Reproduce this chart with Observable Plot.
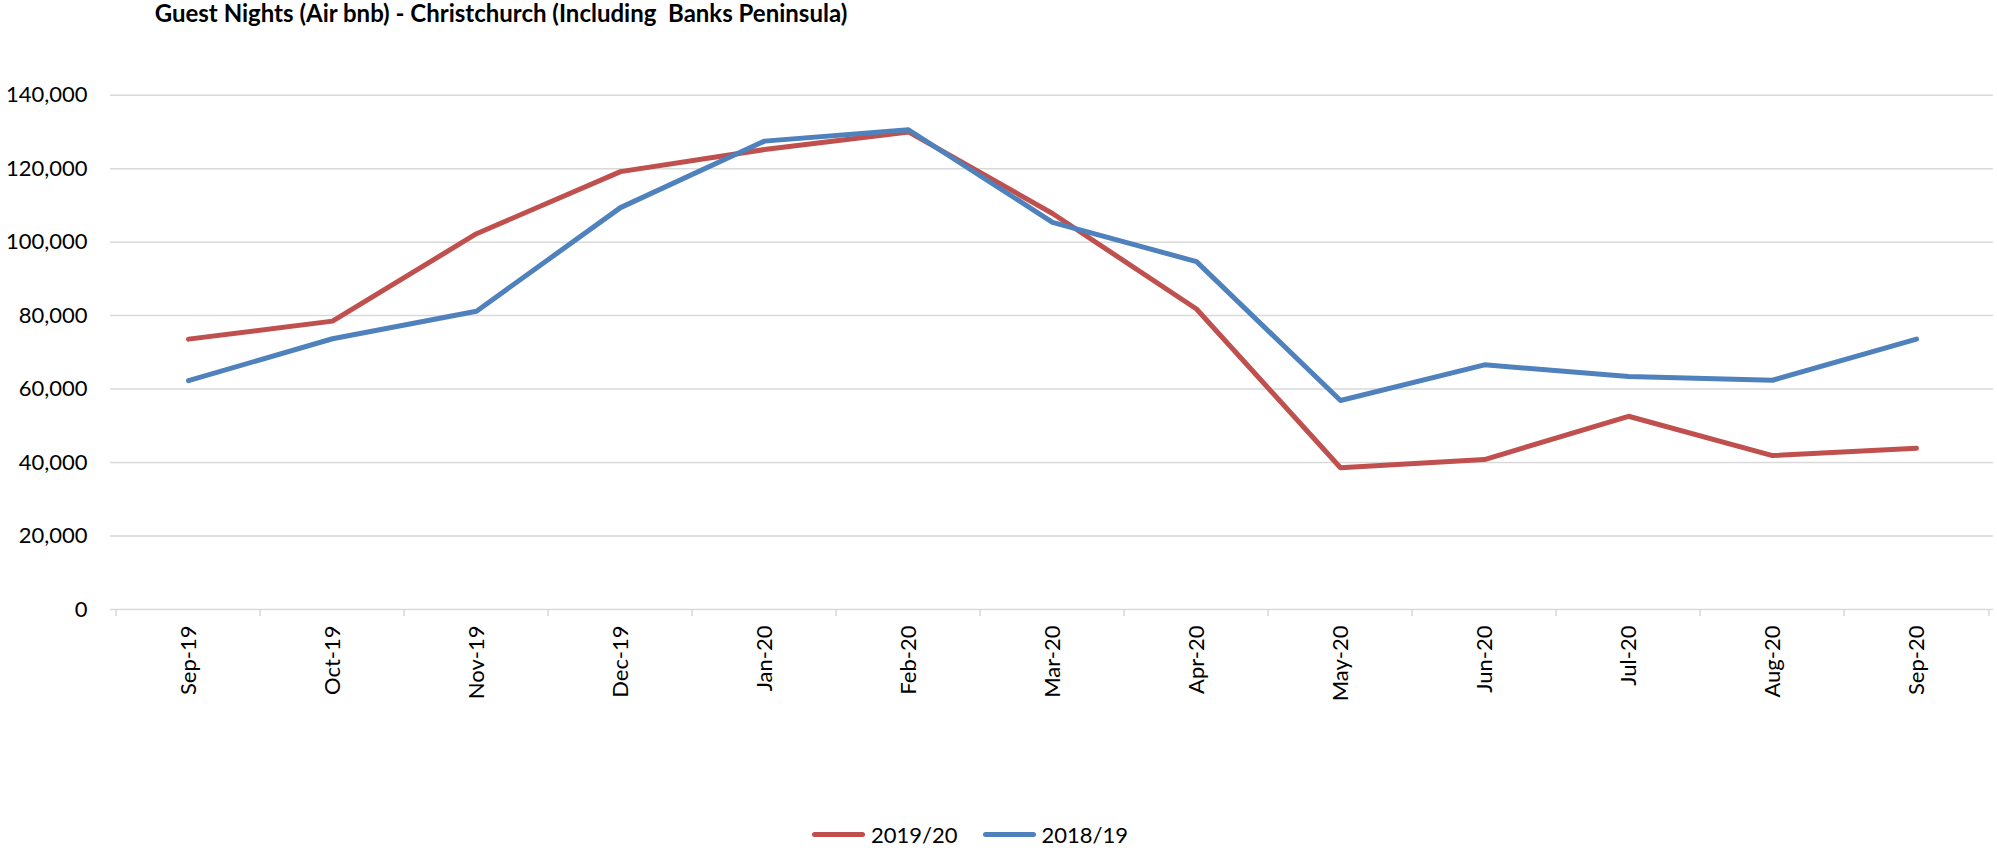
<!DOCTYPE html>
<html>
<head>
<meta charset="utf-8">
<script src="https://cdn.jsdelivr.net/npm/d3@7"></script>
<script src="https://cdn.jsdelivr.net/npm/@observablehq/plot@0.6"></script>
<style>
  html, body { margin: 0; padding: 0; background: #fff; width: 1997px; height: 850px; overflow: hidden; }
  #title { height: 40px; width: 1002px; text-align: center; font-family: Lato, "Open Sans", sans-serif; font-weight: 700; font-size: 24px; line-height: 26px; color: #000; white-space: pre; }
  #chart { height: 770px; }
  #legend { height: 40px; box-sizing: border-box; padding-top: 8px; padding-left: 812px; display: flex; align-items: center; font-family: Lato, "Open Sans", sans-serif; font-size: 22px; color: #000; }
  .sw { display: inline-block; width: 53px; height: 5px; border-radius: 3px; margin-right: 6px; }
  .item { display: flex; align-items: center; margin-right: 25px; }
</style>
</head>
<body>
<div id="title">Guest Nights (Air bnb) - Christchurch (Including  Banks Peninsula)</div>
<div id="chart"></div>
<div id="legend"></div>
<script>
const months = ["Sep-19","Oct-19","Nov-19","Dec-19","Jan-20","Feb-20","Mar-20","Apr-20","May-20","Jun-20","Jul-20","Aug-20","Sep-20"];
const nights2019_20 = [73600, 78500, 102300, 119200, 125200, 130000, 107800, 81800, 38600, 40800, 52600, 41900, 43900];
const nights2018_19 = [62300, 73700, 81200, 109400, 127500, 130600, 105400, 94700, 56900, 66600, 63400, 62400, 73600];
const seriesNames = ["2019/20", "2018/19"];
const seriesColors = ["#C0504D", "#4F81BD"];
const yTicks = [0, 20000, 40000, 60000, 80000, 100000, 120000, 140000];

const data = months.flatMap((m, i) => [
  {month: m, value: nights2019_20[i], series: seriesNames[0]},
  {month: m, value: nights2018_19[i], series: seriesNames[1]}
]);
// draw 2019/20 first, 2018/19 on top
data.sort((a, b) => seriesNames.indexOf(a.series) - seriesNames.indexOf(b.series));

const W = 1997, H = 770, mL = 110, mR = 4, mT = 54.7, mB = 201;
const step = (W - mL - mR) / months.length;
const frameH = H - mT - mB;

const chart = Plot.plot({
  width: W, height: H,
  marginLeft: mL, marginRight: mR, marginTop: mT, marginBottom: mB,
  style: {fontFamily: "Lato, 'Open Sans', sans-serif", fontSize: "22px", color: "#000", background: "#fff", overflow: "visible"},
  x: {type: "point", domain: months, padding: 0.5, label: null},
  y: {domain: [0, 140000], label: null},
  color: {domain: seriesNames, range: seriesColors},
  marks: [
    Plot.ruleY(yTicks, {stroke: "#D9D9D9", strokeWidth: 1.5}),
    Plot.ruleX(months, {x: d => d, dx: -step / 2, stroke: "#D9D9D9", strokeWidth: 1.5, insetTop: frameH, insetBottom: -7}),
    Plot.ruleX(months.slice(-1), {x: d => d, dx: step / 2, stroke: "#D9D9D9", strokeWidth: 1.5, insetTop: frameH, insetBottom: -7}),
    Plot.axisY({ticks: yTicks, tickFormat: d3.format(","), tickSize: 0, tickPadding: 23, label: null}),
    Plot.axisX({tickRotate: -90, tickSize: 0, tickPadding: 16, label: null}),
    Plot.line(data, {x: "month", y: "value", z: "series", stroke: "series", strokeWidth: 5, strokeLinejoin: "round", strokeLinecap: "round"})
  ]
});
document.getElementById("chart").appendChild(chart);

const legend = document.getElementById("legend");
seriesNames.forEach((name, i) => {
  const item = document.createElement("div");
  item.className = "item";
  const sw = document.createElement("span");
  sw.className = "sw";
  sw.style.background = seriesColors[i];
  const label = document.createElement("span");
  label.textContent = name;
  item.appendChild(sw);
  item.appendChild(label);
  legend.appendChild(item);
});
</script>
</body>
</html>
